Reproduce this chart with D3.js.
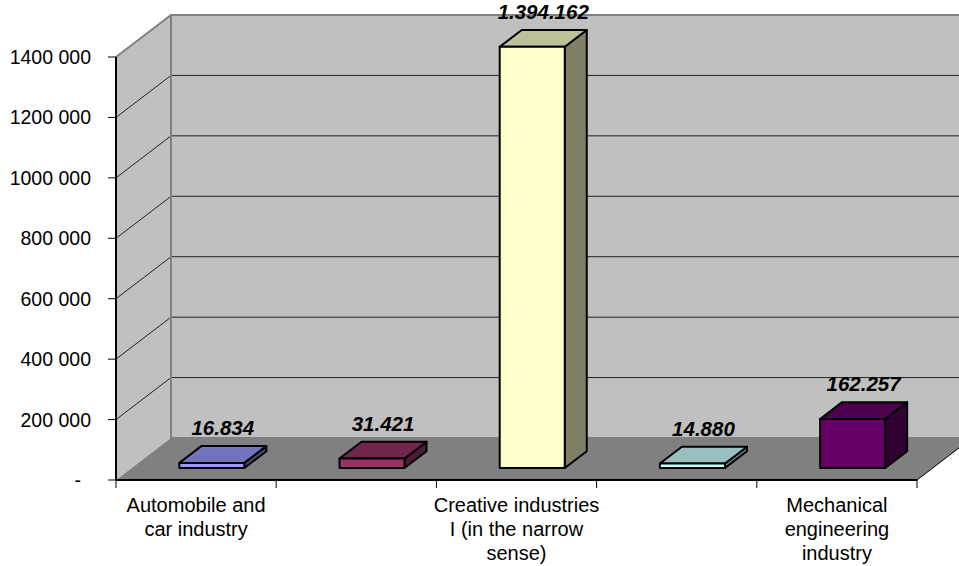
<!DOCTYPE html>
<html lang="en">
<head>
    <meta charset="UTF-8">
    <title>Employment by industry (3D columns)</title>
    <script src="https://d3js.org/d3.v7.min.js"></script>
    <style>
        body { margin: 0; background: #fff; }
        svg { display: block; font-family: Arial, "Liberation Sans", sans-serif; }
    </style>
</head>
<body>
<script>
    // data
    var categories = ["Automobile and car industry", "Cat 2", "Creative industries I (in the narrow sense)", "Cat 4", "Mechanical engineering industry"];
    var axisLabels = [["Automobile and", "car industry"], [], ["Creative industries", "I (in the narrow", "sense)"], [], ["Mechanical", "engineering", "industry"]];
    var values = [16834, 31421, 1394162, 14880, 162257];
    var yTicks = [0, 200000, 400000, 600000, 800000, 1000000, 1200000, 1400000];
    var barColors = ["#9999FF", "#993366", "#FFFFCC", "#CCFFFF", "#660066"];

    var w = 959, h = 566;
    var DX = 55, DY = 42;          // depth of the plot box
    var f0 = 0.286, fd = 0.4;      // bar depth start / thickness (fraction of box depth)

    var svg = d3.select("body").append("svg")
        .attr("width", w)
        .attr("height", h);

    var xScale = d3.scaleBand()
        .domain(categories)
        .range([116, 917])
        .paddingInner(0.594)
        .paddingOuter(0.297);

    var yScale = d3.scaleLinear()
        .domain([0, 1400000])
        .range([480, 57]);

    var x0 = xScale.range()[0], x1 = xScale.range()[1];
    var yTop = yScale(1400000), yBase = yScale(0);

    function shade(c, k) {
        var r = d3.rgb(c);
        return d3.rgb(r.r * k, r.g * k, r.b * k).formatHex();
    }

    // side wall
    svg.append("polygon")
        .attr("points", [[x0, yTop], [x0 + DX, yTop - DY], [x0 + DX, yBase - DY], [x0, yBase]].join(" "))
        .attr("fill", "#C0C0C0");

    // back wall
    svg.append("rect")
        .attr("x", x0 + DX).attr("y", yTop - DY)
        .attr("width", w).attr("height", yBase - yTop)
        .attr("fill", "#C0C0C0");

    // floor
    svg.append("polygon")
        .attr("points", [[x0, yBase], [x1, yBase], [x1 + DX, yBase - DY], [x0 + DX, yBase - DY]].join(" "))
        .attr("fill", "#808080");

    // gridlines (back wall + side wall)
    var grid = yTicks.filter(function(d) { return d > 0 && d < 1400000; });
    svg.selectAll(".gridBack").data(grid).enter().append("line")
        .attr("x1", x0 + DX).attr("x2", w)
        .attr("y1", function(d) { return yScale(d) - DY; })
        .attr("y2", function(d) { return yScale(d) - DY; })
        .attr("stroke", "#222").attr("stroke-width", 1);
    svg.selectAll(".gridSide").data(grid).enter().append("line")
        .attr("x1", x0).attr("x2", x0 + DX)
        .attr("y1", function(d) { return yScale(d); })
        .attr("y2", function(d) { return yScale(d) - DY; })
        .attr("stroke", "#222").attr("stroke-width", 1);

    // wall borders
    svg.append("path")
        .attr("d", "M" + x0 + "," + yTop + "L" + (x0 + DX) + "," + (yTop - DY) + "L" + w + "," + (yTop - DY) +
              "M" + (x0 + DX) + "," + (yTop - DY) + "L" + (x0 + DX) + "," + (yBase - DY) + "L" + w + "," + (yBase - DY))
        .attr("fill", "none").attr("stroke", "#808080").attr("stroke-width", 2);
    svg.append("path")
        .attr("d", "M" + x1 + "," + yBase + "L" + (x1 + DX) + "," + (yBase - DY))
        .attr("fill", "none").attr("stroke", "#000").attr("stroke-width", 1);

    // bars
    var bw = xScale.bandwidth();
    var bars = svg.selectAll(".bar").data(values).enter().append("g").attr("class", "bar");
    function geo(d, i) {
        var bx = xScale(categories[i]) + f0 * DX;
        var yb = yScale(0) - f0 * DY;
        var yt = yScale(d) - f0 * DY;
        return { bx: bx, bx2: bx + bw, yb: yb, yt: yt, dx: fd * DX, dy: fd * DY };
    }
    bars.append("polygon")
        .attr("points", function(d, i) {
            var g = geo(d, i);
            return [[g.bx2, g.yt], [g.bx2 + g.dx, g.yt - g.dy], [g.bx2 + g.dx, g.yb - g.dy], [g.bx2, g.yb]].join(" ");
        })
        .attr("fill", function(d, i) { return shade(barColors[i], 0.5); });
    bars.append("polygon")
        .attr("points", function(d, i) {
            var g = geo(d, i);
            return [[g.bx, g.yt], [g.bx2, g.yt], [g.bx2 + g.dx, g.yt - g.dy], [g.bx + g.dx, g.yt - g.dy]].join(" ");
        })
        .attr("fill", function(d, i) { return shade(barColors[i], 0.75); });
    bars.append("rect")
        .attr("x", function(d, i) { return geo(d, i).bx; })
        .attr("y", function(d, i) { return geo(d, i).yt; })
        .attr("width", bw)
        .attr("height", function(d, i) { var g = geo(d, i); return g.yb - g.yt; })
        .attr("fill", function(d, i) { return barColors[i]; });
    bars.selectAll("*")
        .attr("stroke", "#000").attr("stroke-width", 2).attr("stroke-linejoin", "round");

    // value labels
    var fmt = d3.formatLocale({ decimal: ",", thousands: ".", grouping: [3], currency: ["", ""] }).format(",d");
    svg.selectAll(".val").data(values).enter().append("text")
        .attr("x", function(d, i) { var g = geo(d, i); return g.bx + bw / 2 + g.dx / 2; })
        .attr("y", function(d, i) { var g = geo(d, i); return g.yt - g.dy - 11; })
        .attr("text-anchor", "middle")
        .attr("font-size", "20.5px")
        .attr("font-weight", "bold")
        .attr("font-style", "italic")
        .attr("fill", "#000")
        .text(function(d) { return fmt(d); });

    // y axis
    svg.append("line")
        .attr("x1", x0).attr("x2", x0).attr("y1", yTop).attr("y2", yBase)
        .attr("stroke", "#000").attr("stroke-width", 2);
    svg.selectAll(".ytick").data(yTicks).enter().append("line")
        .attr("x1", x0 - 8).attr("x2", x0)
        .attr("y1", function(d) { return yScale(d); })
        .attr("y2", function(d) { return yScale(d); })
        .attr("stroke", "#000").attr("stroke-width", 1);
    svg.selectAll(".ylab").data(yTicks).enter().append("text")
        .attr("x", function(d) { return d === 0 ? x0 - 35 : x0 - 25; })
        .attr("y", function(d) { return yScale(d); })
        .attr("dy", "0.36em")
        .attr("text-anchor", "end")
        .attr("font-size", "19.5px")
        .attr("fill", "#000")
        .text(function(d) { return d === 0 ? "-" : String(d).replace(/(\d{3})$/, " $1"); });

    // x axis
    svg.append("line")
        .attr("x1", x0).attr("x2", x1).attr("y1", yBase).attr("y2", yBase)
        .attr("stroke", "#000").attr("stroke-width", 2);
    var step = xScale.step();
    var xt = d3.range(categories.length + 1).map(function(i) { return x0 + i * step; });
    svg.selectAll(".xtick").data(xt).enter().append("line")
        .attr("x1", function(d) { return d; }).attr("x2", function(d) { return d; })
        .attr("y1", yBase).attr("y2", yBase + 8)
        .attr("stroke", "#000").attr("stroke-width", 1);
    var cl = svg.selectAll(".xlab").data(categories).enter().append("text")
        .attr("x", function(d) { return xScale(d) + bw / 2; })
        .attr("y", 512)
        .attr("text-anchor", "middle")
        .attr("font-size", "20px")
        .attr("fill", "#000");
    cl.selectAll("tspan").data(function(d, i) { return axisLabels[i]; }).enter().append("tspan")
        .attr("x", function() { return d3.select(this.parentNode).attr("x"); })
        .attr("dy", function(d, j) { return j === 0 ? 0 : 24; })
        .text(function(d) { return d; });
</script>
</body>
</html>
